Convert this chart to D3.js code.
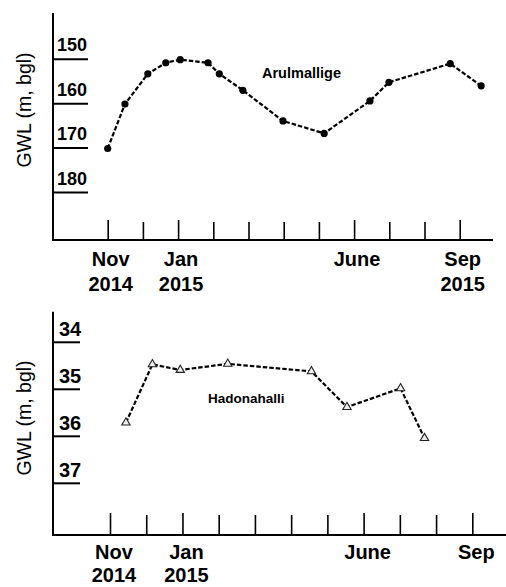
<!DOCTYPE html>
<html>
<head>
<meta charset="utf-8">
<script src="https://cdn.jsdelivr.net/npm/d3@7"></script>
<style>
  html, body { margin: 0; padding: 0; background: #fff; }
  svg { display: block; }
  text { font-family: "Liberation Sans", Arial, Helvetica, sans-serif; fill: #000; }
</style>
</head>
<body>
<script>
// ---------------- data ----------------
const monthTicks = [0, 1, 2, 3, 4, 5, 6, 7, 8, 9, 10]; // 0 = Nov 2014 ... 10 = Sep 2015
const labeledMonths = [0, 2, 7, 10];

const topXLabels = [["Nov", "2014"], ["Jan", "2015"], ["June"], ["Sep", "2015"]];
const bottomXLabels = [["Nov", "2014"], ["Jan", "2015"], ["June"], ["Sep"]];

const topYTicks = [150, 160, 170, 180];
const bottomYTicks = [34, 35, 36, 37];

// Arulmallige (month position, GWL m bgl)
const arulMonth = [0, 0.49, 1.14, 1.65, 2.06, 2.85, 3.17, 3.84, 4.98, 6.15, 7.45, 7.99, 9.73, 10.61];
const arulGWL   = [170.2, 160.2, 153.4, 150.9, 150.2, 150.9, 153.4, 157.1, 164.0, 166.8, 159.5, 155.3, 151.1, 156.1];

// Hadonahalli
const hadoMonth = [0.44, 1.17, 1.94, 3.25, 5.56, 6.54, 8.02, 8.68];
const hadoGWL   = [35.72, 34.48, 34.60, 34.47, 34.63, 35.39, 34.99, 36.05];

const yTitle = "GWL (m, bgl)";

// ---------------- drawing ----------------
const W = 506, H = 587;
const svg = d3.select("body").append("svg").attr("width", W).attr("height", H);

function panel(cfg) {
  const g = svg.append("g");
  const x = d3.scaleLinear().domain([0, 10]).range([cfg.x0, cfg.x10]);
  const y = d3.scaleLinear().domain(cfg.yDomain).range([cfg.top, cfg.bottom]);

  g.append("line").attr("x1", cfg.axisX).attr("x2", cfg.axisX)
    .attr("y1", cfg.top).attr("y2", cfg.bottom)
    .attr("stroke", "#000").attr("stroke-width", 2);
  g.append("line").attr("x1", cfg.axisX - 1).attr("x2", cfg.xEnd)
    .attr("y1", cfg.bottom).attr("y2", cfg.bottom)
    .attr("stroke", "#000").attr("stroke-width", 2);

  const ya = g.append("g").attr("transform", `translate(${cfg.axisX},0)`)
    .call(d3.axisRight(y).tickValues(cfg.yTicks).tickSize(cfg.yTickLen).tickFormat(d3.format("d")));
  ya.select(".domain").remove();
  ya.selectAll(".tick line").attr("stroke", "#000").attr("stroke-width", 2);
  ya.selectAll(".tick text")
    .attr("x", cfg.yLabelDx).attr("y", cfg.yLabelDy).attr("dy", null)
    .attr("text-anchor", "start")
    .style("font-size", cfg.yLabelSize + "px").style("font-weight", "bold")
    .style("font-family", '"Liberation Sans", Arial, sans-serif').attr("fill", "#000");

  const xa = g.append("g").attr("transform", `translate(0,${cfg.bottom})`)
    .call(d3.axisTop(x).tickValues(monthTicks).tickSize(cfg.xTickLen).tickFormat(""));
  xa.select(".domain").remove();
  xa.selectAll(".tick line").attr("stroke", "#000").attr("stroke-width", 1.6)
    .attr("y2", d => labeledMonths.includes(d) ? -cfg.xTickLen - 2 : -cfg.xTickLen);

  labeledMonths.forEach((m, i) => {
    const lines = cfg.xLabels[i];
    const t = g.append("text")
      .attr("text-anchor", "middle")
      .style("font-size", "20px").style("font-weight", "bold");
    lines.forEach((s, j) => {
      t.append("tspan").attr("x", x(m) + cfg.xLabelDx).attr("y", cfg.xLabelY + j * cfg.xLabelGap).text(s);
    });
  });

  g.append("text")
    .attr("transform", `translate(${cfg.titleX},${cfg.titleY}) rotate(-90)`)
    .attr("text-anchor", "middle")
    .style("font-size", "19.5px")
    .text(yTitle);

  const pts = cfg.months.map((m, i) => [m, cfg.vals[i]]);
  g.append("path").datum(pts)
    .attr("d", d3.line().x(d => x(d[0])).y(d => y(d[1])))
    .attr("fill", "none").attr("stroke", "#000")
    .attr("stroke-width", 2.2).attr("stroke-dasharray", "4.5,2");

  if (cfg.marker === "circle") {
    g.selectAll(".pt").data(pts).enter().append("circle")
      .attr("cx", d => x(d[0])).attr("cy", d => y(d[1])).attr("r", 3.6).attr("fill", "#000");
  } else {
    const tri = d3.symbol().type(d3.symbolTriangle).size(30);
    g.selectAll(".pt").data(pts).enter().append("path")
      .attr("d", tri)
      .attr("transform", d => `translate(${x(d[0])},${y(d[1])})`)
      .attr("fill", "#eee").attr("stroke", "#222").attr("stroke-width", 1.1);
  }

  g.append("text").attr("x", cfg.nameX).attr("y", cfg.nameY)
    .style("font-size", cfg.nameSize + "px").style("font-weight", "bold")
    .text(cfg.name);
}

panel({
  axisX: 53, top: 13, bottom: 240, xEnd: 493,
  x0: 107.7, x10: 459.7,
  yDomain: [139.7, 190.8], yTicks: topYTicks, yTickLen: 35,
  yLabelDx: 4, yLabelDy: -8, yLabelSize: 18,
  xTickLen: 18, xLabels: topXLabels, xLabelDx: 3, xLabelY: 266, xLabelGap: 25,
  titleX: 31, titleY: 110,
  months: arulMonth, vals: arulGWL, marker: "circle",
  name: "Arulmallige", nameX: 262, nameY: 78, nameSize: 14.5
});

panel({
  axisX: 53, top: 311.7, bottom: 535, xEnd: 506,
  x0: 110, x10: 472.3,
  yDomain: [33.36, 38.11], yTicks: bottomYTicks, yTickLen: 27,
  yLabelDx: 6, yLabelDy: -6, yLabelSize: 20,
  xTickLen: 20, xLabels: bottomXLabels, xLabelDx: 4, xLabelY: 559, xLabelGap: 23,
  titleX: 31, titleY: 418,
  months: hadoMonth, vals: hadoGWL, marker: "triangle",
  name: "Hadonahalli", nameX: 208, nameY: 403, nameSize: 13.5
});
</script>
</body>
</html>
